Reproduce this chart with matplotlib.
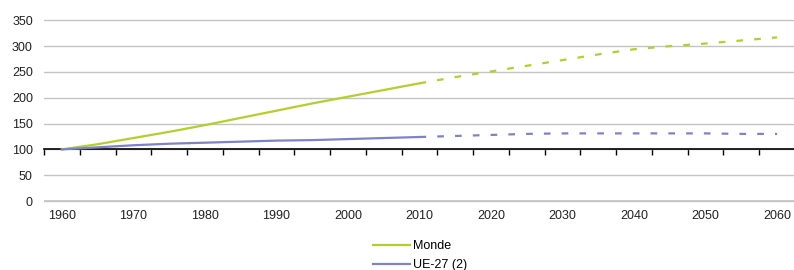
import numpy as np
import matplotlib.pyplot as plt
import matplotlib.transforms as mtransforms

plt.rcParams['font.family'] = ['Liberation Sans', 'DejaVu Sans']

# Observed values (index 1960 = 100)
years_obs = [1960, 1965, 1970, 1975, 1980, 1985, 1990, 1995, 2000, 2005, 2010]
monde_obs = [100, 110, 122, 134, 147, 161, 175, 189, 202, 215, 228]
ue_obs = [100, 104, 108, 111, 113, 115, 117, 118, 120, 122, 124]

# Projections
years_proj = [2010, 2015, 2020, 2025, 2030, 2035, 2040, 2045, 2050, 2055, 2060]
monde_proj = [228, 240, 251, 262, 273, 284, 294, 300, 305, 311, 317]
ue_proj = [124, 126, 128, 130, 131, 131, 131, 131, 131, 130, 130]

year_labels = list(range(1960, 2061, 10))

green = '#b3cf2a'
blue = '#7e82c6'

fig = plt.figure(figsize=(7.94, 2.70), dpi=100)
ax = fig.add_axes([44/794, 66.4/270, 751/794, 184.3/270])

ax.plot(years_obs, monde_obs, color=green, lw=1.6, label='Monde')
ax.plot(years_obs, ue_obs, color=blue, lw=1.6, label='UE-27 (2)')
ax.plot(years_proj, monde_proj, color=green, lw=1.6, dashes=(3, 5))
ax.plot(years_proj, ue_proj, color=blue, lw=1.6, dashes=(3, 5))

ax.set_xlim(1957.5, 2062.5)
ax.set_ylim(-5, 352)
ax.set_yticks(np.arange(0, 351, 50))
ax.grid(axis='y', color='#c4c4c4', lw=1)
ax.set_axisbelow(True)
# baseline gridline at 0 (the tick gridline there gets hidden)
ax.axhline(0, color='#c4c4c4', lw=1.2, zorder=3)
for s in ['top', 'right', 'left']:
    ax.spines[s].set_visible(False)
ax.spines['bottom'].set_position(('data', 100))
ax.spines['bottom'].set_color('black')
ax.spines['bottom'].set_linewidth(1.2)
ax.spines['bottom'].set_zorder(1)
ax.set_xticks(np.arange(1957.5, 2063, 5))
ax.tick_params(axis='x', direction='out', length=4, width=1, color='black',
               labelbottom=False)
ax.tick_params(axis='y', length=0, pad=8, labelsize=9, labelcolor='#222222')

# year labels under the plot area
trans = mtransforms.blended_transform_factory(ax.transData, ax.transAxes)
for yr in year_labels:
    ax.text(yr, -0.035, str(yr), transform=trans, ha='center', va='top',
            fontsize=9, color='#222222')

fig.legend(loc='upper left', bbox_to_anchor=(373/794, 1 - 240/270), frameon=False,
           fontsize=9, handlelength=2.95, handletextpad=0.25, labelspacing=0.55,
           borderaxespad=0, borderpad=0)

fig.savefig('out.png', dpi=100)
